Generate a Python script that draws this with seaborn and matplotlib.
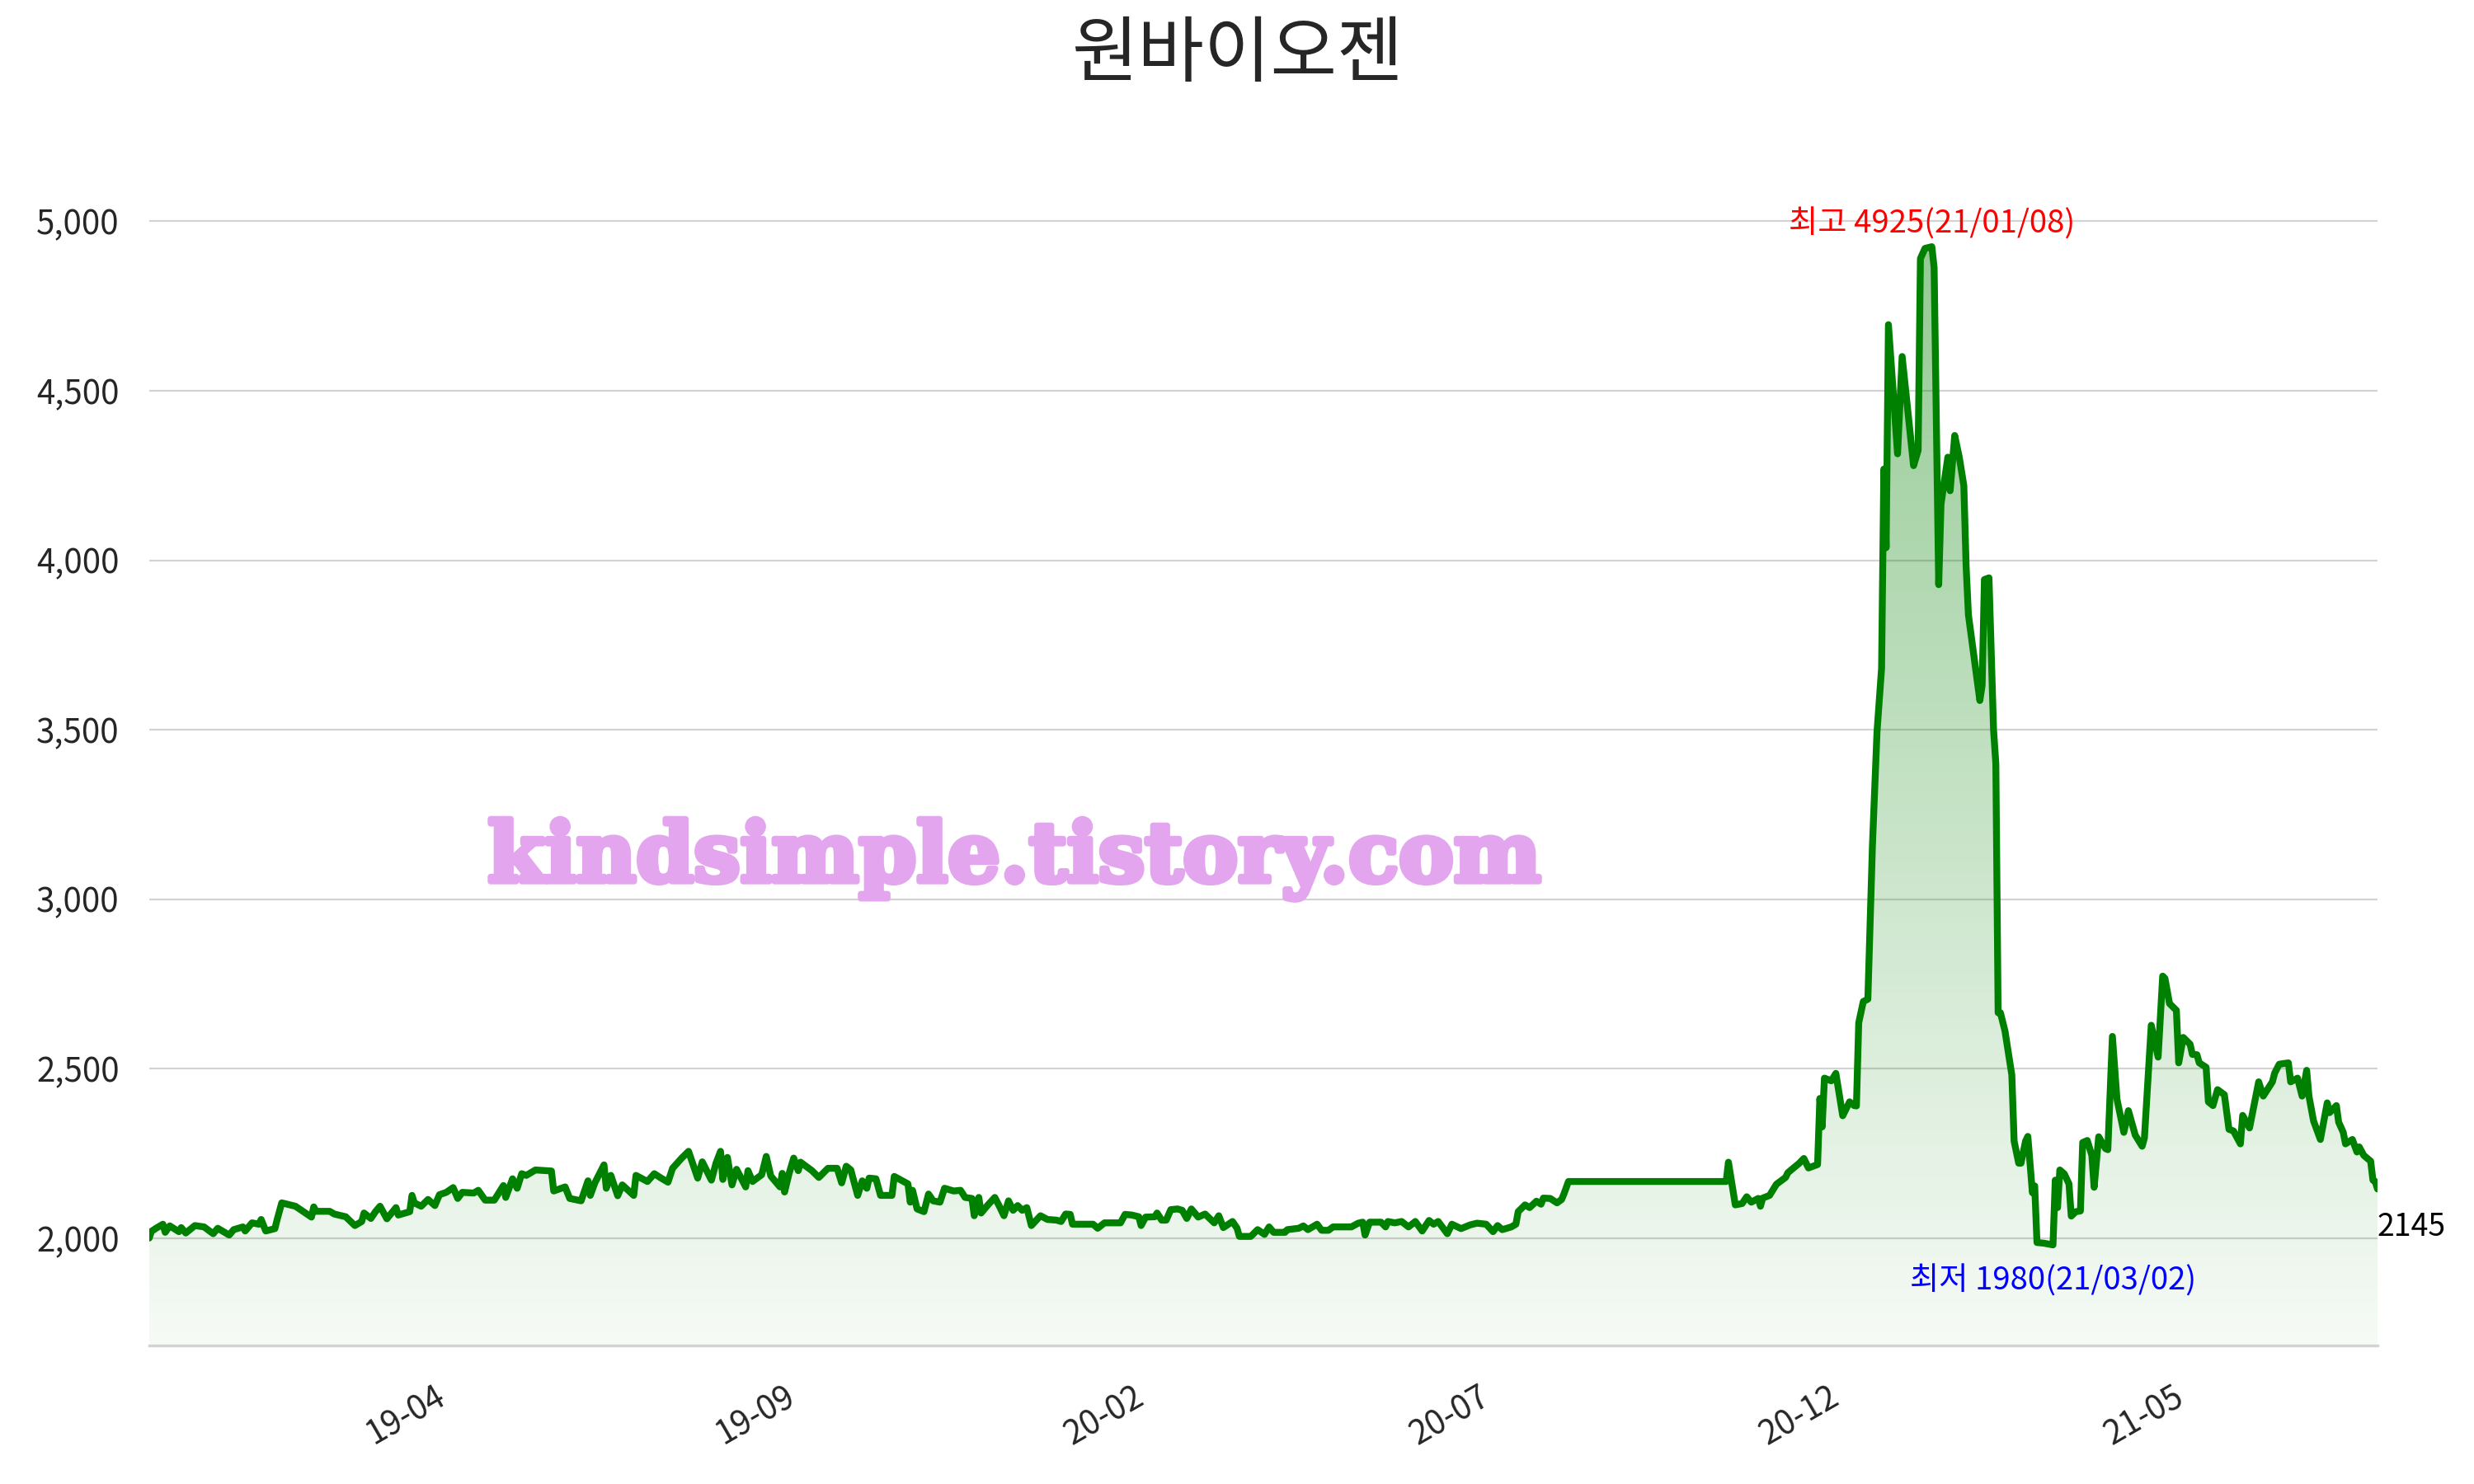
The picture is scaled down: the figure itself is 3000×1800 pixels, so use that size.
import numpy as np
import pandas as pd
import matplotlib
matplotlib.use("Agg")
import matplotlib.pyplot as plt
import matplotlib.dates as mdates
import matplotlib.patheffects as pe
from matplotlib.ticker import FuncFormatter
import seaborn as sns

# ---------------- data ----------------
title = "원바이오젠"
start_date = "2018-11-01"
# trading-day offsets (days since start_date)
days = [19, 20, 22, 25, 26, 28, 32, 33, 35, 39, 43, 47, 49, 54, 56, 60, 61, 64, 67, 68,
        70, 74, 75, 77, 83, 90, 91, 92, 98, 100, 105, 109, 112, 113, 116, 118, 120, 123, 127, 128,
        133, 134, 135, 138, 141, 144, 146, 149, 152, 154, 156, 161, 163, 166, 170, 174, 175, 178, 180, 182,
        184, 188, 195, 196, 201, 203, 208, 211, 212, 214, 218, 219, 221, 224, 226, 231, 232, 237, 240, 243,
        246, 248, 252, 255, 259, 261, 265, 267, 269, 270, 272, 274, 276, 280, 281, 283, 287, 289, 291, 295,
        296, 297, 299, 301, 303, 304, 309, 312, 316, 320, 322, 324, 326, 329, 331, 333, 334, 337, 339, 344,
        345, 351, 352, 353, 355, 358, 360, 362, 365, 367, 371, 374, 376, 379, 380, 382, 383, 386, 389, 391,
        393, 395, 397, 399, 401, 403, 405, 409, 412, 416, 418, 420, 422, 423, 432, 434, 437, 444, 446, 449,
        452, 453, 455, 459, 460, 462, 464, 466, 469, 471, 473, 475, 478, 481, 485, 487, 489, 493, 495, 496,
        501, 504, 507, 509, 511, 516, 517, 522, 524, 526, 530, 532, 535, 537, 545, 548, 550, 551, 553, 558,
        560, 561, 564, 567, 570, 573, 576, 579, 581, 583, 587, 589, 593, 597, 600, 604, 607, 609, 611, 615,
        617, 618, 621, 623, 626, 628, 629, 632, 635, 637, 638, 640, 709, 710, 713, 716, 718, 720, 723, 724,
        725, 728, 731, 735, 736, 741, 743, 745, 749, 750, 751, 752, 755, 757, 760, 763, 765, 766, 767, 769,
        771, 772, 773, 775, 777, 778, 779, 780, 784, 786, 791, 793, 794, 796, 799, 800, 802, 803, 806, 807,
        809, 811, 813, 814, 815, 820, 821, 822, 824, 826, 827, 828, 829, 831, 834, 835, 837, 838, 840, 841,
        843, 844, 845, 848, 852, 853, 854, 855, 857, 859, 860, 862, 864, 865, 867, 869, 870, 872, 875, 876,
        878, 880, 883, 885, 888, 891, 892, 895, 898, 900, 901, 903, 906, 907, 909, 912, 913, 915, 916, 919,
        920, 922, 924, 927, 929, 931, 934, 935, 938, 942, 944, 948, 949, 951, 955, 956, 959, 961, 963, 964,
        966, 969, 972, 973, 976, 977, 979, 980, 983, 985, 986, 988, 991, 992, 993, 994]
prices = [2000, 2020, 2029, 2041, 2017, 2036, 2019, 2031, 2015, 2037, 2033, 2013, 2029, 2009, 2025, 2033, 2021, 2045, 2041, 2055,
          2021, 2028, 2055, 2104, 2094, 2062, 2092, 2079, 2079, 2071, 2063, 2037, 2049, 2074, 2058, 2078, 2094, 2057, 2090, 2068,
          2078, 2126, 2104, 2094, 2114, 2096, 2128, 2135, 2149, 2117, 2135, 2133, 2141, 2112, 2112, 2155, 2120, 2175, 2147, 2190,
          2185, 2201, 2198, 2139, 2151, 2117, 2110, 2169, 2126, 2163, 2216, 2147, 2185, 2125, 2157, 2126, 2185, 2167, 2190, 2177,
          2165, 2206, 2236, 2256, 2177, 2225, 2171, 2221, 2256, 2173, 2238, 2157, 2203, 2151, 2199, 2167, 2187, 2241, 2183, 2151,
          2191, 2136, 2191, 2236, 2199, 2224, 2199, 2179, 2206, 2206, 2163, 2212, 2201, 2126, 2169, 2147, 2177, 2175, 2126, 2126,
          2182, 2160, 2106, 2141, 2086, 2078, 2130, 2110, 2106, 2147, 2139, 2141, 2120, 2117, 2066, 2120, 2074, 2098, 2120, 2094,
          2066, 2110, 2082, 2096, 2082, 2090, 2037, 2066, 2055, 2053, 2049, 2071, 2070, 2041, 2041, 2029, 2045, 2045, 2070, 2068,
          2063, 2037, 2062, 2063, 2074, 2053, 2053, 2084, 2086, 2082, 2058, 2086, 2062, 2071, 2045, 2066, 2031, 2049, 2029, 2005,
          2005, 2025, 2011, 2033, 2017, 2017, 2025, 2029, 2036, 2025, 2041, 2023, 2023, 2033, 2033, 2044, 2047, 2009, 2047, 2047,
          2033, 2049, 2045, 2049, 2033, 2049, 2021, 2052, 2041, 2049, 2013, 2041, 2028, 2039, 2044, 2041, 2019, 2037, 2025, 2033,
          2041, 2078, 2098, 2090, 2109, 2100, 2118, 2117, 2104, 2114, 2130, 2167, 2167, 2224, 2098, 2102, 2122, 2106, 2117, 2094,
          2118, 2126, 2159, 2179, 2193, 2221, 2235, 2207, 2217, 2412, 2328, 2472, 2464, 2486, 2361, 2402, 2391, 2390, 2635, 2698,
          2705, 2928, 3158, 3493, 3681, 4269, 4037, 4695, 4314, 4601, 4279, 4324, 4890, 4920, 4925, 4863, 3928, 4165, 4304, 4205,
          4368, 4304, 4220, 3982, 3839, 3586, 3631, 3943, 3948, 3500, 3400, 2665, 2665, 2611, 2481, 2286, 2221, 2221, 2286, 2300,
          2134, 2154, 1987, 1985, 1980, 2171, 2090, 2201, 2189, 2160, 2065, 2078, 2080, 2282, 2288, 2244, 2150, 2299, 2264, 2261,
          2595, 2410, 2312, 2376, 2304, 2271, 2295, 2628, 2534, 2773, 2766, 2692, 2672, 2517, 2592, 2572, 2542, 2541, 2517, 2504,
          2402, 2391, 2438, 2423, 2321, 2316, 2278, 2362, 2325, 2461, 2419, 2461, 2487, 2513, 2517, 2461, 2472, 2419, 2495, 2419,
          2346, 2291, 2399, 2370, 2391, 2342, 2312, 2278, 2291, 2254, 2269, 2244, 2227, 2171, 2167, 2145]
tick_dates = ["2019-04-01", "2019-09-01", "2020-02-01", "2020-07-01", "2020-12-01", "2021-05-01"]
y_ticks = [2000, 2500, 3000, 3500, 4000, 4500, 5000]
watermark = "kindsimple.tistory.com"

# ---------------- build frame ----------------
dates = pd.Timestamp(start_date) + pd.to_timedelta(days, unit="D")
df = pd.DataFrame({"date": dates, "price": prices})

sns.set_theme(style="white")
plt.rcParams["font.family"] = ["Noto Sans CJK KR", "DejaVu Sans"]

fig = plt.figure(figsize=(15, 9), dpi=200)
ax = fig.add_axes([0.0603, 0.0933, 0.9007, 0.7967])

vmax = df["price"].max()
vmin = df["price"].min()
ylo, yhi = vmin * 0.85, vmax * 1.05

sns.lineplot(data=df, x="date", y="price", ax=ax, color="green", linewidth=3.0, zorder=4)

# gradient fill under the curve
xnum = mdates.date2num(df["date"])
poly = ax.fill_between(df["date"], df["price"], ylo, color="none", lw=0)
ncol = 256
alphas = np.linspace(0.04, 0.42, ncol)
grad = np.zeros((ncol, 1, 4))
grad[:, 0, 1] = 128 / 255
grad[:, 0, 3] = alphas
img = ax.imshow(grad, aspect="auto", origin="lower",
                extent=[xnum.min(), xnum.max(), ylo, vmax], zorder=2)
img.set_clip_path(poly.get_paths()[0], transform=ax.transData)

ax.set_xlim(df["date"].iloc[0], df["date"].iloc[-1])
ax.set_ylim(ylo, yhi)

# axes styling
ax.set_xlabel("")
ax.set_ylabel("")
ax.set_yticks(y_ticks)
ax.yaxis.set_major_formatter(FuncFormatter(lambda v, p: f"{v:,.0f}"))
ax.set_xticks(pd.to_datetime(tick_dates))
ax.xaxis.set_major_formatter(mdates.DateFormatter("%y-%m"))
for lab in ax.get_xticklabels():
    lab.set_rotation(30)
    lab.set_ha("right")
ax.tick_params(axis="both", labelsize=14.5, length=7, width=0.5, color="#333333", pad=6)
ax.tick_params(axis="x", pad=8)
ax.grid(axis="y", color="#d3d3d3", linewidth=0.8)
ax.grid(axis="x", visible=False)
for s in ["left", "top", "right"]:
    ax.spines[s].set_visible(False)
ax.spines["bottom"].set_color("#d3d3d3")
ax.spines["bottom"].set_linewidth(1.2)
ax.set_axisbelow(True)

# annotations
imax = df["price"].idxmax()
imin = df["price"].idxmin()
dmax = df.loc[imax, "date"]
dmin = df.loc[imin, "date"]
ax.text(dmax, vmax * 1.004, f"최고 {vmax}({dmax:%y/%m/%d})", color="red",
        ha="center", va="bottom", fontsize=13.8, zorder=6)
ax.text(dmin, vmin * 0.97, f"최저 {vmin}({dmin:%y/%m/%d})", color="blue",
        ha="center", va="top", fontsize=13.8, zorder=6)
last = df["price"].iloc[-1]
ax.text(df["date"].iloc[-1], last * 0.97, f"{last}", color="black",
        ha="left", va="top", fontsize=13.5, zorder=6)

# watermark
fig.text(0.41, 0.421, watermark, color="#E3A6EE", fontsize=36,
         fontweight="bold", family="DejaVu Serif", ha="center", va="center", zorder=10,
         path_effects=[pe.withStroke(linewidth=2.5, foreground="#E3A6EE")])

fig.text(0.5, 0.963, title, fontsize=31.5, ha="center", va="center")

fig.savefig("out.png", dpi=200)
